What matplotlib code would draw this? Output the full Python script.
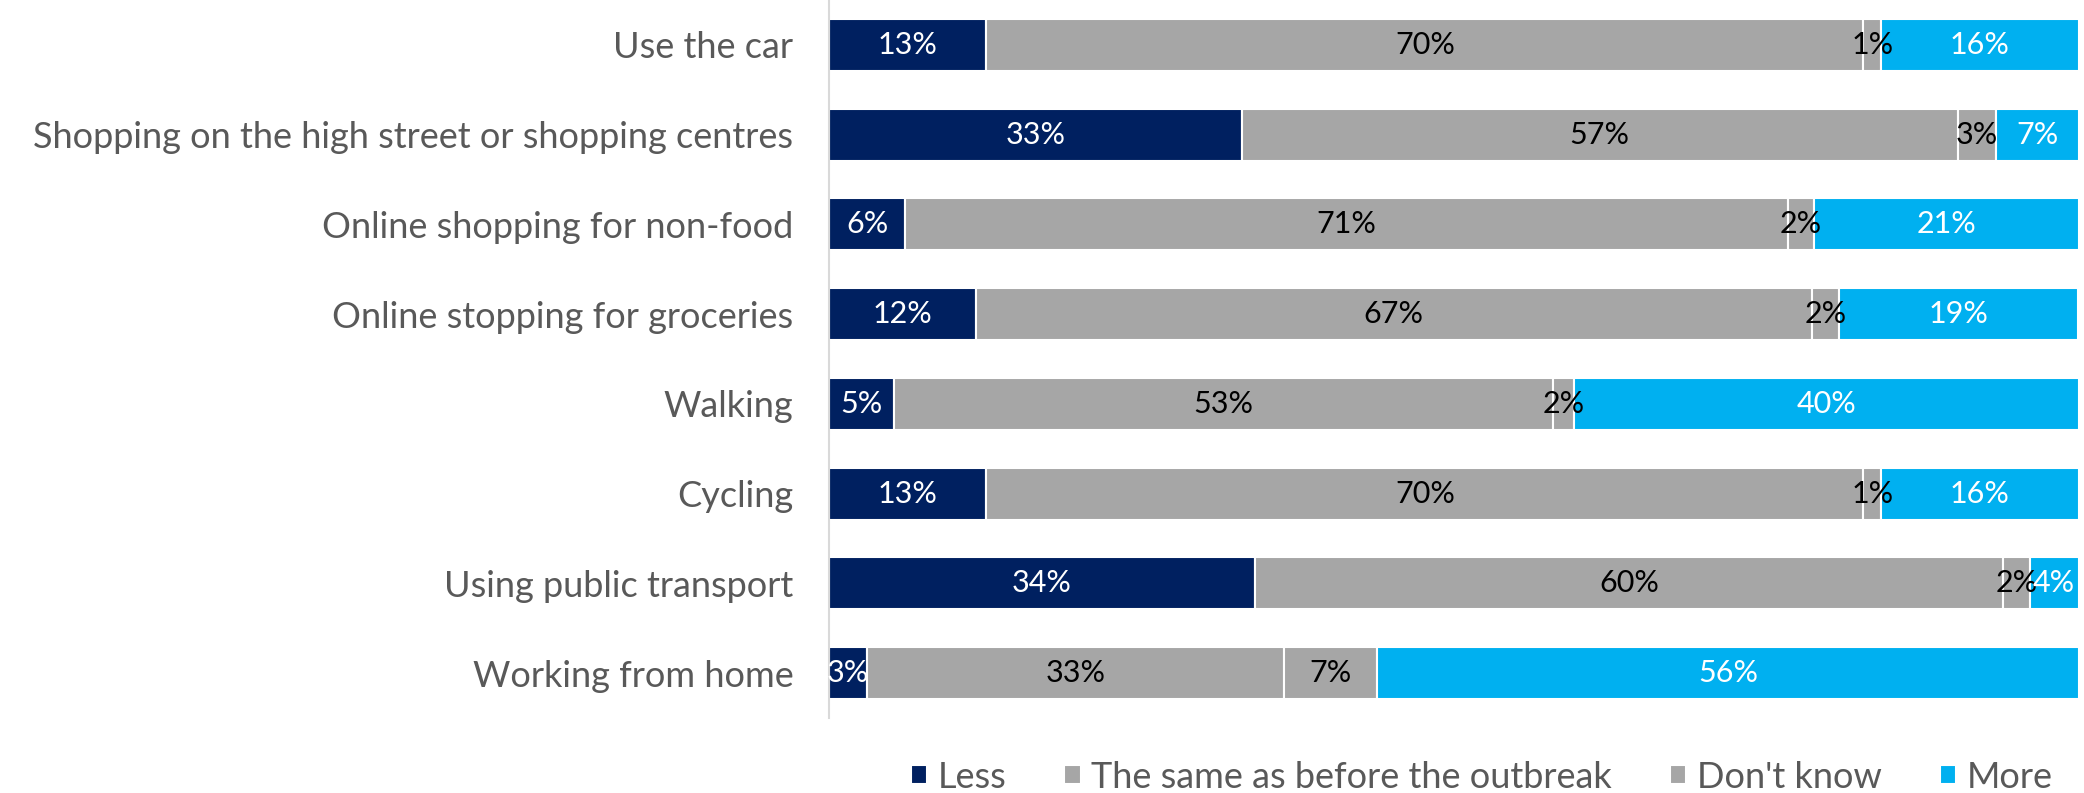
import matplotlib
matplotlib.use("Agg")
import matplotlib.pyplot as plt
import numpy as np

plt.rcParams['font.family'] = ['Lato', 'DejaVu Sans']

categories = ["Use the car", "Shopping on the high street or shopping centres",
              "Online shopping for non-food", "Online stopping for groceries",
              "Walking", "Cycling", "Using public transport", "Working from home"]
series = ["Less", "The same as before the outbreak", "Don't know", "More"]
less = [12.55, 32.98, 6.06, 11.7, 5.2, 12.55, 34.04, 2.98]
same = [70.2, 57.3, 70.64, 66.9, 52.7, 70.2, 59.9, 33.4]
dont_know = [1.4, 3.1, 2.13, 2.2, 1.7, 1.4, 2.1, 7.45]
more = [15.85, 6.6, 21.17, 19.15, 40.4, 15.85, 3.94, 56.17]

colors = ["#002060", "#A6A6A6", "#A6A6A6", "#00B0F0"]
text_colors = ["white", "black", "black", "white"]

fig = plt.figure(figsize=(20.84, 7.93), dpi=100)
ax = fig.add_axes([0.398, 0.0946, 0.5996, 0.9054])

y = np.arange(len(categories))
left = np.zeros(len(categories))
for vals, col, tc, name in zip([less, same, dont_know, more], colors, text_colors, series):
    vals = np.array(vals)
    ax.barh(y, vals, left=left, height=0.58, color=col, edgecolor="white",
            linewidth=1.5, label=name)
    for yi, (l, v) in enumerate(zip(left, vals)):
        ax.text(l + v / 2, yi, f"{int(v + 0.5)}%", ha="center", va="center",
                color=tc, fontsize=22)
    left += vals

ax.set_xlim(0, 100)
ax.set_ylim(len(categories) - 0.5, -0.5)
ax.set_yticks(y)
ax.set_yticklabels(categories, fontsize=26, color="#595959")
ax.tick_params(axis="y", length=0, pad=26)
ax.set_xticks([])
for s in ["top", "right", "bottom"]:
    ax.spines[s].set_visible(False)
ax.spines["left"].set_color("#D9D9D9")
ax.spines["left"].set_linewidth(1.5)

leg = fig.legend(loc="center", bbox_to_anchor=(0.711, 0.02), ncol=4, frameon=False,
                 fontsize=26, labelcolor="#595959", handlelength=0.45, handleheight=0.45,
                 handletextpad=0.3, columnspacing=1.6)

fig.savefig("out.png", dpi=100)
